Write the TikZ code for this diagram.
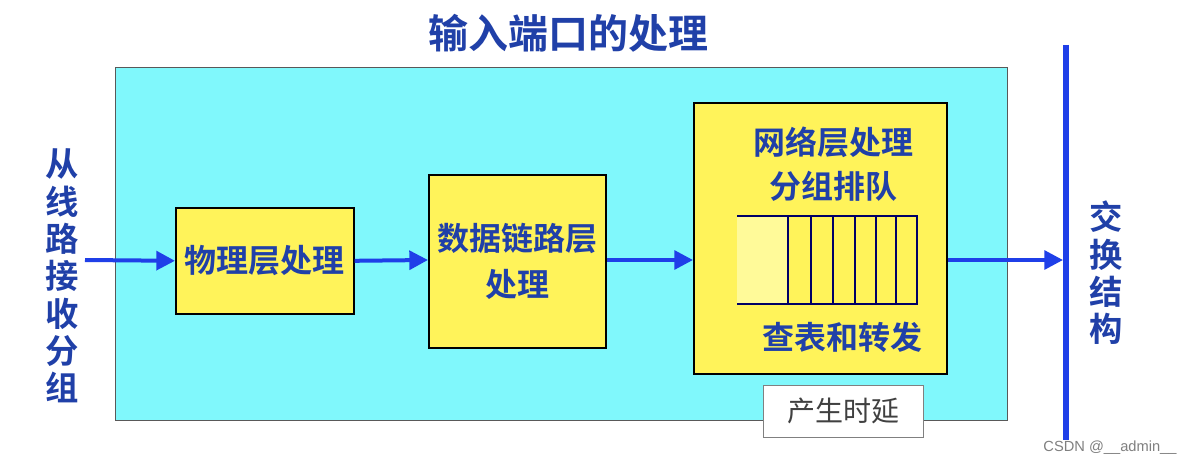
\documentclass[tikz,border=0pt]{standalone}
\usepackage{fontspec}
\newfontfamily\cjk{Noto Sans CJK SC}
\newfontfamily\cjkb{Noto Sans CJK SC Bold}
\usetikzlibrary{arrows.meta}
\definecolor{tblue}{HTML}{2040A8}
\definecolor{ablue}{HTML}{1F3FE8}
\definecolor{cyanbg}{HTML}{80F8FC}
\definecolor{yel}{HTML}{FFF35A}
\tikzset{
 ybox/.style={draw=black,line width=1.2pt,fill=yel},
 lab/.style={text=tblue,font=\cjkb\fontsize{24}{28}\selectfont,align=center,inner sep=0pt},
 flow/.style={draw=ablue,line width=3pt,-{Triangle[length=14pt,width=14pt]}}
}
\begin{document}
\begin{tikzpicture}[x=0.75pt,y=-0.75pt]
\useasboundingbox[fill=white] (0,0) rectangle (1189,467);
\node[draw=gray!70!black,line width=1pt,fill=cyanbg,minimum width=892*0.75pt,minimum height=353*0.75pt,anchor=north west,inner sep=0pt] (bg) at (115,67) {};
\node[lab,font=\cjkb\fontsize{30}{34}\selectfont] (title) at (568,33) {输入端口的处理};
\node[lab,text width=28pt,font=\cjkb\fontsize{25}{28}\selectfont] (in) at (62,276) {从\\线\\路\\接\\收\\分\\组};
\node[ybox,minimum width=178*0.75pt,minimum height=106*0.75pt,anchor=north west,inner sep=0pt] (b1) at (175,207) {};
\node[lab] at (b1.center) {物理层处理};
\node[ybox,minimum width=177*0.75pt,minimum height=173*0.75pt,anchor=north west,inner sep=0pt] (b2) at (428,174) {};
\node[lab] at (b2.center) {数据链路层\\[6pt]处理};
\node[ybox,minimum width=253*0.75pt,minimum height=271*0.75pt,anchor=north west,inner sep=0pt] (b3) at (693,102) {};
\node[lab] (n3a) at (833,142) {网络层处理};
\node[lab] (n3b) at (833,186) {分组排队};
\fill[yellow!40] (737,216) rectangle (788,304);
\draw[draw=black!60!blue,line width=1.8pt] (737,216) -- (917,216) -- (917,304) -- (737,304);
\foreach \x in {788,811,833,855,876,896}{\draw[black!60!blue,line width=1.8pt] (\x,216) -- (\x,304);}
\node[lab] (n3c) at (842,337) {查表和转发};
\node[draw=gray,fill=white,minimum width=160*0.75pt,minimum height=52*0.75pt,anchor=north west,inner sep=0pt,font=\cjk\fontsize{21}{24}\selectfont,text=black!75] (delay) at (763,385) {产生时延};
\coordinate (s) at (85,260);
\coordinate (e) at (1063,260);
\draw[flow] (s) -- (b1.west);
\draw[flow] (b1.east) -- (b2.west|-s);
\draw[flow] (b2.east|-s) -- (b3.west|-s);
\draw[flow] (b3.east|-s) -- (e);
\coordinate (bt) at (1066,45); \coordinate (bb) at (1066,440);
\draw[ablue,line width=4.5pt] (bt) -- (bb);
\node[lab,text width=28pt,font=\cjkb\fontsize{25}{28}\selectfont] (out) at (1106,273) {交\\换\\结\\构};
\node[text=gray,font=\fontspec{Liberation Sans}\fontsize{11}{13}\selectfont] (wm) at (1110,448) {CSDN @\_\_admin\_\_};
\end{tikzpicture}
\end{document}
